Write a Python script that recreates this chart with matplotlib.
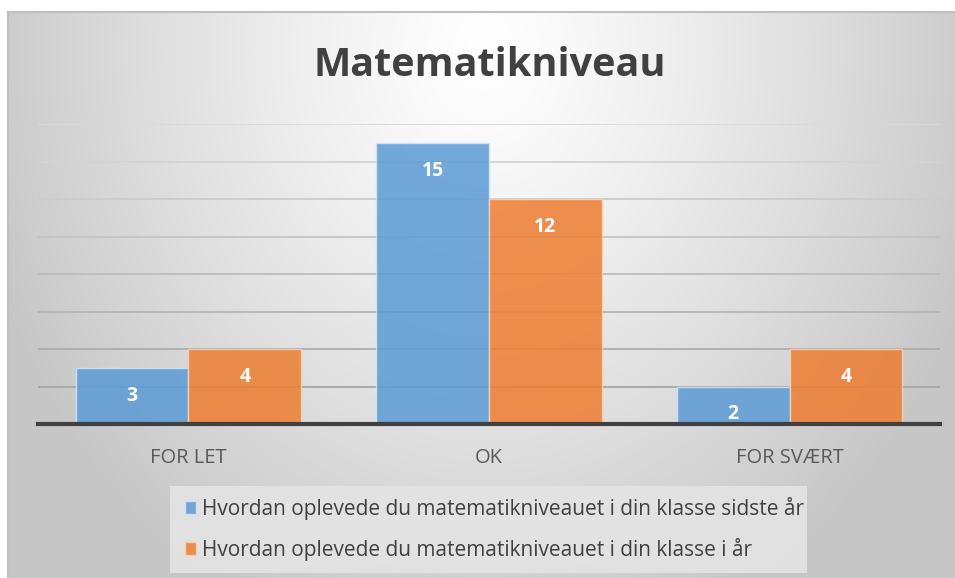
import numpy as np
import matplotlib
matplotlib.use("Agg")
import matplotlib.pyplot as plt
from matplotlib.patches import Rectangle

# Data
categories = ["FOR LET", "OK", "FOR SVÆRT"]
sidste_aar = [3, 15, 2]
i_aar = [4, 12, 4]
series_names = [
    "Hvordan oplevede du matematikniveauet i din klasse sidste år",
    "Hvordan oplevede du matematikniveauet i din klasse i år",
]
colors = ["#5B9BD5", "#ED7D31"]

plt.rcParams["font.family"] = ["Open Sans", "DejaVu Sans"]

W, H = 955, 578
fig = plt.figure(figsize=(W / 100, H / 100), dpi=100)
fig.patch.set_facecolor("white")

# Background: radial gradient, white in the upper middle, grey towards the edges
bg = fig.add_axes([8 / W, 0, 1 - 8 / W, 1 - 12 / H], zorder=0)
yy, xx = np.mgrid[0:566, 0:947]
cx, cy = 475, 40
d = np.sqrt(((xx - cx) / 520.0) ** 2 + ((yy - cy) / 620.0) ** 2)
d = np.clip(d, 0, 1)
shade = 1.0 - 0.22 * d ** 1.2
img = np.dstack([shade, shade, shade])
bg.imshow(img, aspect="auto", extent=(0, 1, 0, 1), origin="upper")
bg.set_xlim(0, 1)
bg.set_ylim(0, 1)
bg.axis("off")
# grey frame lines on top and left
fig.add_artist(plt.Line2D([8 / W, 1], [1 - 12 / H, 1 - 12 / H], color="#bfbfbf", lw=1.5))
fig.add_artist(plt.Line2D([8 / W, 8 / W], [0, 1 - 12 / H], color="#bfbfbf", lw=1.5))

# Main axes
ax = fig.add_axes([38 / W, (H - 424) / H, (940 - 38) / W, (424 - 124) / H], zorder=2)
ax.patch.set_alpha(0)
x = np.arange(len(categories))
bw = 0.375

for lvl in range(2, 17, 2):
    t = (lvl - 2) / 14
    g = 0.65 + t * (0.855 - 0.65)
    ax.axhline(lvl, color=(g, g, g), lw=1.3, zorder=1)

b1 = ax.bar(x - bw / 2, sidste_aar, bw, color=colors[0], alpha=0.85,
            edgecolor="#d6e6f5", linewidth=1.0, zorder=2, label=series_names[0])
b2 = ax.bar(x + bw / 2, i_aar, bw, color=colors[1], alpha=0.85,
            edgecolor="#f9d2b8", linewidth=1.0, zorder=2, label=series_names[1])

for bars in (b1, b2):
    for r in bars:
        h = r.get_height()
        ax.annotate(f"{int(h)}", (r.get_x() + r.get_width() / 2, h),
                    xytext=(0, -20), textcoords="offset points",
                    ha="center", va="center", color="white",
                    fontsize=14, fontweight="bold", zorder=3)

ax.set_xlim(-0.5, 2.5)
ax.set_ylim(0, 16)
ax.set_yticks([])
ax.set_xticks(x)
ax.set_xticklabels(categories, fontsize=14.5, color="#595959")
ax.tick_params(axis="x", length=0, pad=17)
for s in ["top", "right", "left"]:
    ax.spines[s].set_visible(False)
ax.spines["bottom"].set_color("#404040")
ax.spines["bottom"].set_linewidth(3)
ax.spines["bottom"].set_zorder(4)

fig.text(490 / W, 1 - 66 / H, "Matematikniveau", ha="center", va="center",
         fontsize=28.5, fontweight="bold", color="#404040")

# Legend box
fig.add_artist(Rectangle((170 / W, 1 - 573 / H), (807 - 170) / W, (573 - 486) / H,
                         transform=fig.transFigure, facecolor="#e4e4e4",
                         edgecolor="none", alpha=0.9, zorder=1))
leg = fig.legend(handles=[b1, b2], labels=series_names,
                 loc="center left", bbox_to_anchor=(166 / W, 1 - 529 / H),
                 frameon=False, fontsize=15, labelcolor="#404040",
                 handlelength=0.55, handleheight=0.6, handletextpad=0.3,
                 labelspacing=0.85)

fig.savefig("out.png", dpi=100)
